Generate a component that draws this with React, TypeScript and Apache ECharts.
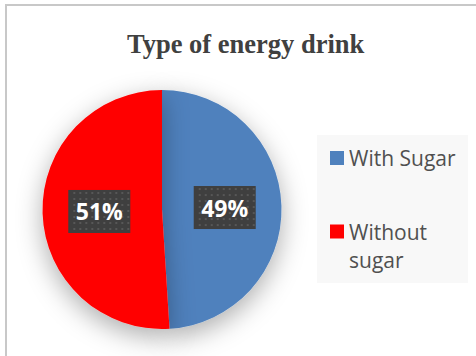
import React, { useEffect, useRef } from "react";
import * as echarts from "echarts";

const titleText = "Type of energy drink";
const categories = ["With Sugar", "Without sugar"];
const values = [49, 51];
const colors = ["#4F81BD", "#FF0000"];

function makePattern(w: number, h: number): string {
  const c = document.createElement("canvas");
  c.width = w;
  c.height = h;
  const ctx = c.getContext("2d");
  if (!ctx) return "";
  ctx.fillStyle = "#3f3f3f";
  ctx.fillRect(0, 0, w, h);
  ctx.fillStyle = "#575757";
  for (let y = 2; y < h; y += 6) {
    for (let x = ((y / 6) % 2 === 0 ? 2 : 5); x < w; x += 6) {
      ctx.fillRect(x, y, 2, 2);
    }
  }
  return c.toDataURL();
}

export default function App() {
  const ref = useRef<HTMLDivElement>(null);
  useEffect(() => {
    if (!ref.current) return;
    const chart = echarts.init(ref.current, undefined, { renderer: "svg" });
    const pattern = makePattern(62, 43);
    chart.setOption({
      animation: false,
      backgroundColor: "#ffffff",
      title: {
        text: titleText,
        left: 127,
        top: 30,
        padding: 0,
        textStyle: {
          fontFamily: "Liberation Serif",
          fontWeight: "bold",
          fontSize: 26.5,
          color: "#404040",
        },
      },
      graphic: [
        {
          type: "rect",
          shape: { x: 6, y: 5, width: 480, height: 360 },
          style: { fill: "none", stroke: "#c8c8c8", lineWidth: 2 },
          silent: true,
          z: -10,
        },
        {
          type: "rect",
          shape: { x: 317, y: 135, width: 151, height: 148 },
          style: { fill: "#f8f8f8" },
          silent: true,
          z: -10,
        },
      ],
      legend: [
        {
          data: [categories[0]],
          orient: "vertical",
          left: 330,
          top: 147.5,
          padding: 0,
          icon: "rect",
          itemWidth: 14,
          itemHeight: 14,
          selectedMode: false,
          textStyle: {
            fontFamily: "Open Sans",
            fontSize: 21,
            color: "#505050",
          },
        },
        {
          data: [categories[1]],
          orient: "vertical",
          left: 330,
          top: 189.5,
          padding: 0,
          icon: "rect",
          itemWidth: 14,
          itemHeight: 14,
          selectedMode: false,
          formatter: (name: string) => "\n" + name.replace(" ", "\n"),
          textStyle: {
            fontFamily: "Open Sans",
            fontSize: 21,
            lineHeight: 28,
            color: "#505050",
          },
        },
      ],
      series: [
        {
          type: "pie",
          center: [162, 209.5],
          radius: 119.5,
          startAngle: 90,
          clockwise: true,
          avoidLabelOverlap: false,
          data: categories.map((name, i) => ({
            name,
            value: values[i],
            itemStyle: { color: colors[i] },
          })),
          itemStyle: {
            shadowBlur: 26,
            shadowOffsetY: 8,
            shadowColor: "rgba(0,0,0,0.32)",
          },
          label: {
            show: true,
            position: "inside",
            formatter: "{d}%",
            fontFamily: "Open Sans",
            fontWeight: "bold",
            fontSize: 23,
            lineHeight: 25,
            color: "#ffffff",
            width: 50,
            overflow: "none",
            align: "center",
            padding: [9, 6],
            backgroundColor: pattern ? { image: pattern } : "#404040",
            shadowColor: "rgba(0,0,0,0.45)",
            shadowBlur: 5,
            shadowOffsetX: 3,
            shadowOffsetY: 4,
          },
          labelLine: { show: false },
          emphasis: { disabled: true },
        },
      ],
    });
    return () => chart.dispose();
  }, []);
  return (
    <div
      ref={ref}
      style={{ position: "absolute", left: 0, top: 0, width: 476, height: 356 }}
    />
  );
}
